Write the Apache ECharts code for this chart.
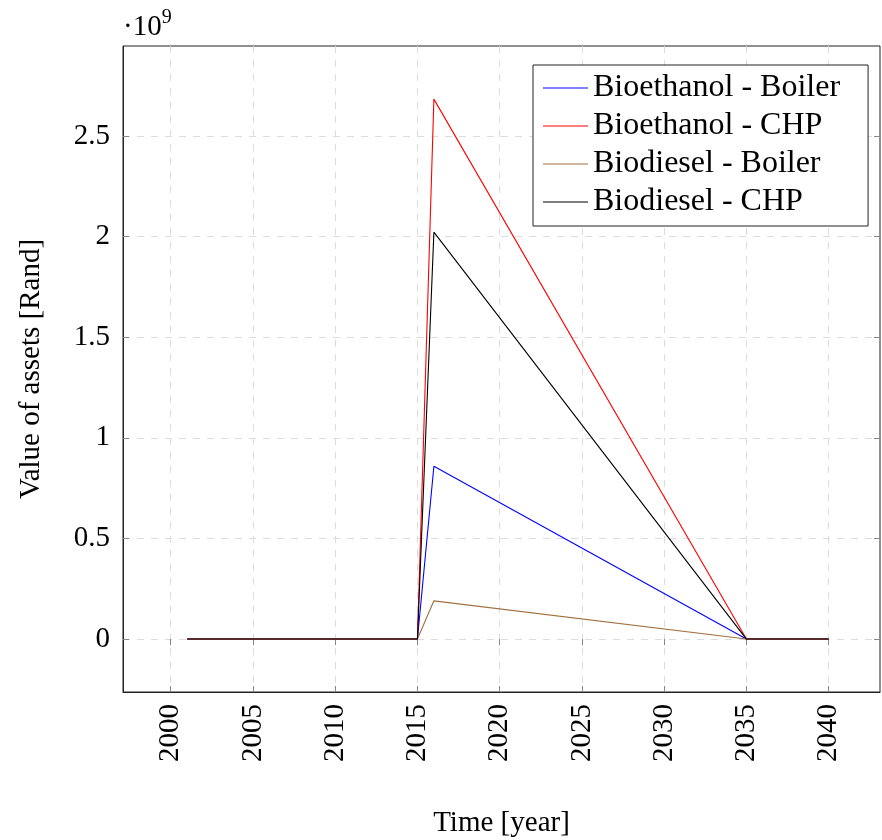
<!DOCTYPE html>
<html>
<head>
<meta charset="utf-8">
<script src="https://cdn.jsdelivr.net/npm/echarts@6/dist/echarts.min.js"></script>
<style>html,body{margin:0;padding:0;background:#fff}#c{width:882px;height:840px}</style>
</head>
<body>
<div id="c"></div>
<script>
// Data (values in Rand)
const years = [2001, 2015, 2016, 2035, 2036, 2040];
const bioethanolBoiler = [0, 0, 0.859e9, 0, 0, 0];
const bioethanolCHP    = [0, 0, 2.683e9, 0, 0, 0];
const biodieselBoiler  = [0, 0, 0.190e9, 0, 0, 0];
const biodieselCHP     = [0, 0, 2.022e9, 0, 0, 0];
const seriesNames = ['Bioethanol - Boiler', 'Bioethanol - CHP', 'Biodiesel - Boiler', 'Biodiesel - CHP'];
const xTicks = [2000, 2005, 2010, 2015, 2020, 2025, 2030, 2035, 2040];
const yTicks = [0, 0.5e9, 1e9, 1.5e9, 2e9, 2.5e9];

const FONT = 'Liberation Serif';
const colors = ['#0000ff', '#ff0000', '#a0703f', '#000000'];
const seriesData = [bioethanolBoiler, bioethanolCHP, biodieselBoiler, biodieselCHP];

const chart = echarts.init(document.getElementById('c'), null, {renderer: 'canvas'});
const gridLine = {show: true, lineStyle: {color: '#dcdcdc', type: [7, 7], width: 1}};
const option = {
  animation: false,
  backgroundColor: '#fff',
  textStyle: {fontFamily: FONT},
  grid: {left: 123, right: 2, top: 46, bottom: 148, outerBoundsMode: 'none', containLabel: false,
         show: true, borderColor: '#222', borderWidth: 1, backgroundColor: 'transparent'},
  legend: {
    orient: 'vertical', left: 533, top: 65,
    padding: [7, 28, 8, 10], itemGap: 6, itemWidth: 45, itemHeight: 31,
    borderColor: '#222', borderWidth: 1, backgroundColor: '#fff',
    textStyle: {fontFamily: FONT, fontSize: 32, color: '#000', lineHeight: 31, padding: [0, 0, 0, 0]},
    data: seriesNames.map((n, i) => ({
      name: n,
      icon: 'path://M0,0 L45,0 L45,1 L0,1 Z',
      itemStyle: {color: colors[i], borderWidth: 0}
    }))
  },
  xAxis: [{
    type: 'value', min: 1997.1, max: 2043.12, position: 'bottom',
    name: 'Time [year]', nameLocation: 'middle', nameGap: 117,
    nameTextStyle: {fontFamily: FONT, fontSize: 29, color: '#000'},
    axisLine: {show: true, onZero: false, lineStyle: {color: '#222'}},
    axisTick: {show: true, inside: true, length: 6, customValues: xTicks, lineStyle: {color: '#888'}},
    axisLabel: {rotate: 90, customValues: xTicks, fontFamily: FONT, fontSize: 29, color: '#000', margin: 12, formatter: v => String(v)},
    splitLine: gridLine
  }, {
    type: 'value', min: 1997.1, max: 2043.12, position: 'top',
    axisLine: {show: false},
    axisTick: {show: true, inside: true, length: 6, customValues: xTicks, lineStyle: {color: '#888'}},
    axisLabel: {show: false},
    splitLine: {show: false}
  }],
  yAxis: [{
    type: 'value', min: -0.263e9, max: 2.947e9,
    name: 'Value of assets [Rand]', nameLocation: 'middle', nameGap: 77,
    nameTextStyle: {fontFamily: FONT, fontSize: 29, color: '#000'},
    axisLine: {show: true, onZero: false, lineStyle: {color: '#222'}},
    axisTick: {show: true, inside: true, length: 6, customValues: yTicks, lineStyle: {color: '#888'}},
    axisLabel: {customValues: yTicks, fontFamily: FONT, fontSize: 29, color: '#000', margin: 13, formatter: v => String(Math.round(v / 1e8) / 10)},
    splitLine: gridLine
  }, {
    type: 'value', min: -0.263e9, max: 2.947e9, position: 'right',
    axisLine: {show: false},
    axisTick: {show: true, inside: true, length: 6, customValues: yTicks, lineStyle: {color: '#888'}},
    axisLabel: {show: false},
    splitLine: {show: false}
  }],
  graphic: [{
    type: 'text', left: 123, top: 8,
    style: {
      text: '{a|·10}{b|9}',
      rich: {
        a: {fontFamily: FONT, fontSize: 29, fill: '#000', verticalAlign: 'bottom'},
        b: {fontFamily: FONT, fontSize: 20, fill: '#000', verticalAlign: 'top', padding: [0, 0, 14, 0]}
      }
    }
  }],
  series: seriesNames.map((n, i) => ({
    name: n, type: 'line', symbol: 'none', showSymbol: false,
    color: colors[i],
    itemStyle: {color: colors[i]},
    lineStyle: {width: 1.1, color: colors[i]},
    data: years.map((y, j) => [y, seriesData[i][j]])
  }))
};
chart.setOption(option);
</script>
</body>
</html>
